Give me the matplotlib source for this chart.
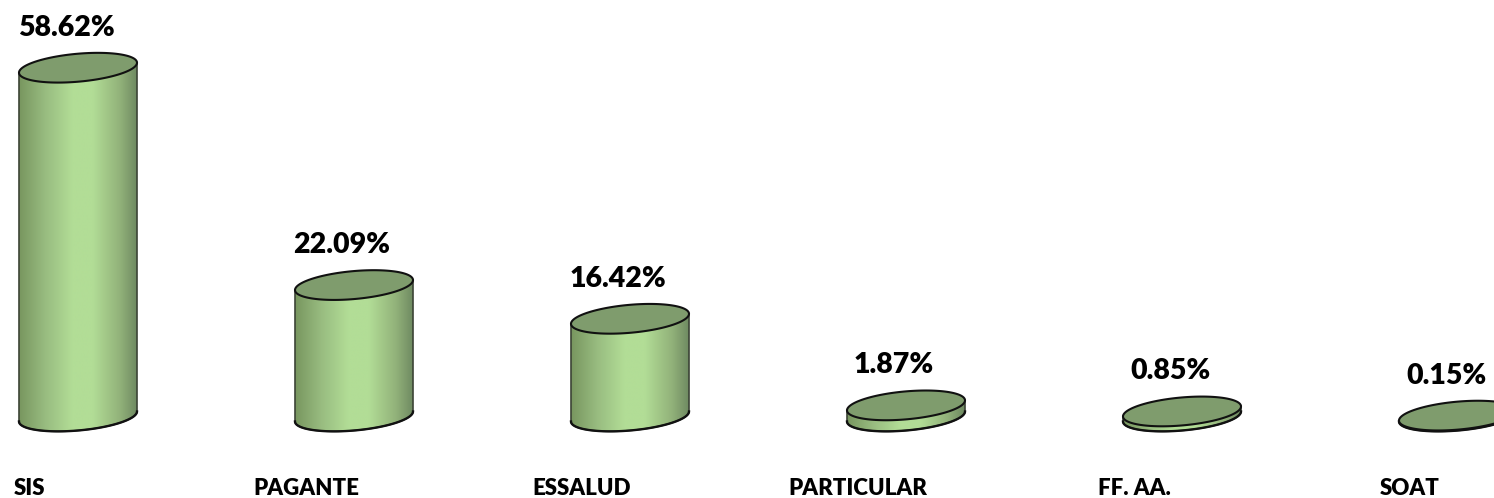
import numpy as np
import matplotlib
matplotlib.use("Agg")
import matplotlib.pyplot as plt
from matplotlib.colors import LinearSegmentedColormap
from matplotlib.patches import Polygon
from matplotlib.transforms import ScaledTranslation

categories = ["SIS", "PAGANTE", "ESSALUD", "PARTICULAR", "FF. AA.", "SOAT"]
values = [58.62, 22.09, 16.42, 1.87, 0.85, 0.15]
value_labels = ["58.62%", "22.09%", "16.42%", "1.87%", "0.85%", "0.15%"]

W, H = 1494, 498
PX_PER_CAT = 276.0
PX_PER_UNIT = 5.95
X0 = 78.0
BASE_Y = 416.5
AX_BOTTOM = 444.0
A, B, K = 59.0, 14.0, 5.0

plt.rcParams["font.family"] = ["Lato", "DejaVu Sans"]
fig = plt.figure(figsize=(W / 100, H / 100), dpi=100, facecolor="white")
ax = fig.add_axes([0, (H - AX_BOTTOM) / H, 1, AX_BOTTOM / H])
ax.set_xlim(-X0 / PX_PER_CAT, (W - X0) / PX_PER_CAT)
ax.set_ylim(-(AX_BOTTOM - BASE_Y) / PX_PER_UNIT, BASE_Y / PX_PER_UNIT)

cmap = LinearSegmentedColormap.from_list(
    "cyl", [(0, "#78965f"), (0.22, "#98bc80"), (0.45, "#b2dd96"), (0.62, "#b2dd96"),
            (0.85, "#92b27a"), (1, "#6d8860")])
grad = np.linspace(0, 1, 256).reshape(1, -1)


def ell(i, v, t):
    x = i + A * np.cos(t) / PX_PER_CAT
    y = v + (B * np.sin(t) + K * np.cos(t)) / PX_PER_UNIT
    return x, y


for i, v in enumerate(values):
    w = A / PX_PER_CAT
    tb = np.linspace(np.pi, 2 * np.pi, 100)
    bx, by = ell(i, 0, tb)
    body = np.column_stack([np.r_[bx, i + w, i - w], np.r_[by, v + K / PX_PER_UNIT, v - K / PX_PER_UNIT]])
    patch = Polygon(body, closed=True, facecolor="none", edgecolor="#3c4436", lw=1.2, zorder=3)
    ax.add_patch(patch)
    im = ax.imshow(grad, cmap=cmap, extent=[i - w, i + w, -5, v + 5], aspect="auto",
                   interpolation="bilinear", zorder=2)
    im.set_clip_path(patch)
    ax.plot(bx, by, color="#111111", lw=1.7, zorder=4)
    tt = np.linspace(0, 2 * np.pi, 200)
    tx, ty = ell(i, v, tt)
    ax.fill(tx, ty, facecolor="#7f9c6d", edgecolor="#111111", lw=1.5, zorder=5)
    ax.annotate(value_labels[i], (i, v), xytext=(-12 * 0.72, 40 * 0.72), textcoords="offset points",
                ha="center", va="center", fontsize=20.5, fontweight="heavy", color="black", zorder=6)

ax.set_xlim(-X0 / PX_PER_CAT, (W - X0) / PX_PER_CAT)
ax.set_ylim(-(AX_BOTTOM - BASE_Y) / PX_PER_UNIT, BASE_Y / PX_PER_UNIT)
ax.set_xticks(range(len(categories)))
ax.set_xticklabels(categories, fontsize=16, fontweight="heavy", color="black")
ax.tick_params(axis="x", length=0, pad=24.2)
shift = ScaledTranslation(-48 / 100, 0, fig.dpi_scale_trans)
for lab in ax.get_xticklabels():
    lab.set_transform(lab.get_transform() + shift)
ax.set_yticks([])
for s in ax.spines.values():
    s.set_visible(False)
ax.patch.set_visible(False)

fig.savefig("out.png", dpi=100, facecolor="white")
